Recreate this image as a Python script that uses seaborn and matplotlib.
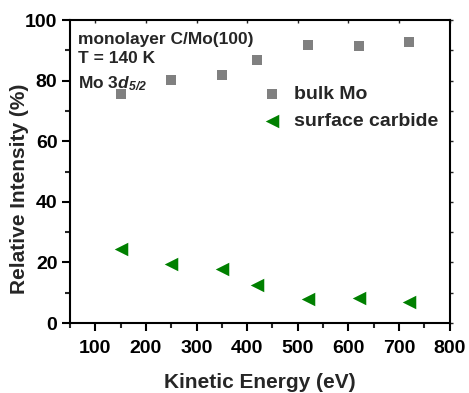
import matplotlib
matplotlib.use("Agg")
import matplotlib.pyplot as plt
from matplotlib.ticker import MultipleLocator
import seaborn as sns
import pandas as pd

# Photoemission intensity split of the Mo 3d5/2 level vs. photoelectron kinetic energy
kinetic_energy = [150, 250, 350, 420, 520, 620, 720]
bulk_mo = [75.5, 80.3, 81.8, 86.8, 91.6, 91.4, 92.7]
surface_carbide = [24.3, 19.4, 17.9, 12.7, 8.1, 8.3, 6.9]
series_names = ["bulk Mo", "surface carbide"]

bulk_df = pd.DataFrame({"ke": kinetic_energy, "intensity": bulk_mo})
carbide_df = pd.DataFrame({"ke": kinetic_energy, "intensity": surface_carbide})

sns.set_theme(style="ticks")
plt.rcParams["font.family"] = ["Liberation Sans", "DejaVu Sans"]
plt.rcParams["font.weight"] = "bold"
plt.rcParams["mathtext.fontset"] = "custom"
plt.rcParams["mathtext.bf"] = "Liberation Sans:bold"
plt.rcParams["mathtext.bfit"] = "Liberation Sans:bold:italic"
plt.rcParams["mathtext.it"] = "Liberation Sans:italic"
plt.rcParams["mathtext.rm"] = "Liberation Sans"

fig = plt.figure(figsize=(4.69, 3.93), dpi=100)
ax = fig.add_axes([0.149, 0.178, 0.81, 0.771])

sns.scatterplot(data=bulk_df, x="ke", y="intensity", marker="s", color="#808080",
                s=60, linewidth=0, label=series_names[0], ax=ax)
sns.scatterplot(data=carbide_df, x="ke", y="intensity", marker="<", color="#008000",
                s=95, linewidth=0, label=series_names[1], ax=ax)

ax.set_xlim(50, 800)
ax.set_ylim(0, 100)
ax.xaxis.set_major_locator(MultipleLocator(100))
ax.xaxis.set_minor_locator(MultipleLocator(50))
ax.yaxis.set_major_locator(MultipleLocator(20))
ax.yaxis.set_minor_locator(MultipleLocator(10))
ax.set_xticks([100, 200, 300, 400, 500, 600, 700, 800])

for sp in ax.spines.values():
    sp.set_visible(True)
    sp.set_linewidth(1.5)
    sp.set_color("black")

ax.tick_params(axis="both", which="major", direction="out", length=6, width=1.5,
               labelsize=14, colors="black")
ax.tick_params(axis="x", which="major", pad=6)
ax.tick_params(axis="y", which="major", pad=3)
ax.tick_params(axis="both", which="minor", direction="out", length=3.5, width=1.5)
# faint ticks mirrored on the top and right spines
ax.secondary_xaxis("top").tick_params(which="both", direction="in", length=2, width=1,
                                      labeltop=False)
sec_y = ax.secondary_yaxis("right")
sec_y.yaxis.set_minor_locator(MultipleLocator(10))
sec_y.tick_params(which="both", direction="out", length=2, width=1, labelright=False)
for lbl in ax.get_xticklabels() + ax.get_yticklabels():
    lbl.set_fontweight("bold")

ax.set_xlabel("Kinetic Energy (eV)", fontsize=15, fontweight="bold", labelpad=12)
ax.set_ylabel("Relative Intensity (%)", fontsize=15, fontweight="bold")
ax.yaxis.set_label_coords(-0.108, 0.442)

ax.text(0.022, 0.962, "monolayer C/Mo(100)", transform=ax.transAxes,
        fontsize=12.5, fontweight="bold", va="top", ha="left")
ax.text(0.022, 0.897, "T = 140 K", transform=ax.transAxes,
        fontsize=12.5, fontweight="bold", va="top", ha="left")
ax.text(0.022, 0.822, r"Mo 3$\mathbfit{d}_{\mathbfit{5/2}}$", transform=ax.transAxes,
        fontsize=12.5, fontweight="bold", va="top", ha="left")

leg = ax.legend(loc="upper left", bbox_to_anchor=(0.46, 0.81), frameon=False,
                fontsize=14, handletextpad=0.15, labelspacing=0.47,
                borderaxespad=0, markerscale=1.0)
for t in leg.get_texts():
    t.set_fontweight("bold")

fig.savefig("out.png", dpi=100)
